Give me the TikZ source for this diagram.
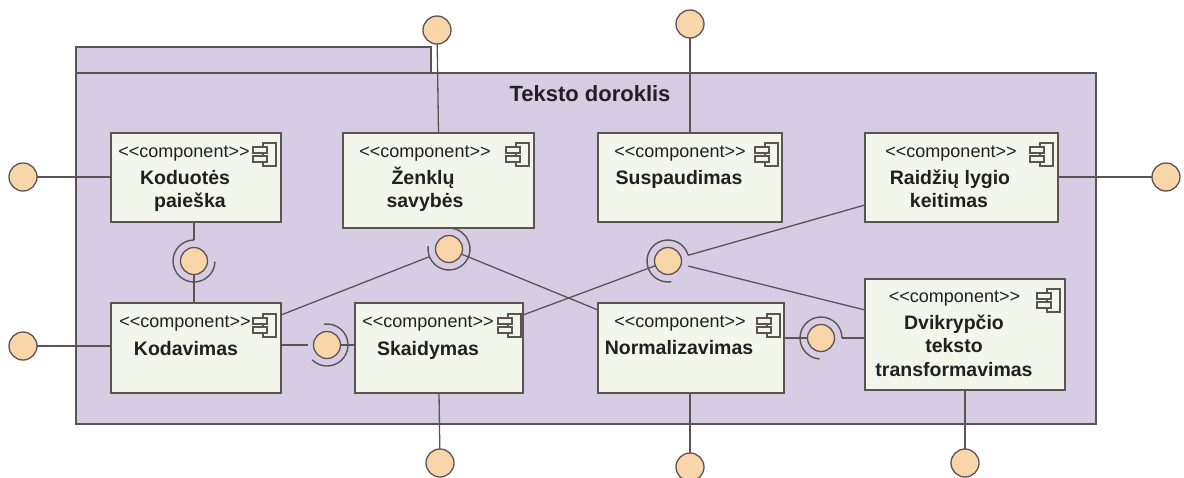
\documentclass[tikz,border=0pt]{standalone}
\usepackage{fontspec}
\setmainfont{Liberation Sans}
\usetikzlibrary{calc}
\definecolor{pkgfill}{HTML}{D6CDE5}
\definecolor{boxfill}{HTML}{F3F7EB}
\definecolor{ballfill}{HTML}{F9D5AA}
\definecolor{edge}{HTML}{5C5353}
\definecolor{ink}{HTML}{231F20}
% stereotype text, with the angle brackets kept apart so they stay plain
\newcommand\stereotxt{<\kern0pt<component>\kern0pt>}
\tikzset{
  pkg/.style={draw=edge, fill=pkgfill, line width=1.5pt},
  comp/.style={rectangle, draw=edge, fill=boxfill, line width=1.5pt, inner sep=0pt, outer sep=0pt},
  iface/.style={circle, draw=edge, fill=ballfill, line width=1.3pt, minimum size=28pt, inner sep=0pt, outer sep=0pt},
  ball/.style={iface, minimum size=27pt},
  wire/.style={draw=edge, line width=1.3pt},
  socket/.style={draw=edge, line width=1.4pt},
  stereo/.style={inner sep=0pt, anchor=base, text=ink, font=\fontsize{18}{20}\selectfont},
  cname/.style={inner sep=0pt, anchor=base, text=ink, font=\fontsize{19.5}{23}\selectfont\bfseries},
  pkgtitle/.style={inner sep=0pt, anchor=base, text=ink, font=\fontsize{22}{26}\selectfont\bfseries},
  cicon/.pic={
    \draw[draw=edge, fill=boxfill, line width=1.1pt] (10,0) rectangle (23,-23);
    \draw[draw=edge, fill=boxfill, line width=1.1pt] (0,-4) rectangle (14,-10);
    \draw[draw=edge, fill=boxfill, line width=1.1pt] (0,-13) rectangle (14,-19);
  },
}
\begin{document}
\begin{tikzpicture}[x=1pt, y=1pt]
\useasboundingbox (0,0) rectangle (1184,-477);

% package frame with its name tab
\draw[pkg] (76,-47) rectangle (431,-74);
\draw[pkg] (76,-73) rectangle (1096,-424);
\node[pkgtitle] (title) at (590,-101) {Teksto doroklis};

% components
\node[comp, minimum width=170pt, minimum height=89pt] (B1) at (196,-177.5) {};
\node[comp, minimum width=191pt, minimum height=95pt] (B2) at (438.5,-180.5) {};
\node[comp, minimum width=184pt, minimum height=89pt] (B3) at (690,-177.5) {};
\node[comp, minimum width=193pt, minimum height=89pt] (B4) at (961.5,-177.5) {};
\node[comp, minimum width=170pt, minimum height=90pt] (B5) at (196,-348) {};
\node[comp, minimum width=168pt, minimum height=90pt] (B6) at (439,-348) {};
\node[comp, minimum width=186pt, minimum height=90pt] (B7) at (691,-348) {};
\node[comp, minimum width=200pt, minimum height=111pt] (B8) at (965,-334.5) {};

% component icons
\pic at (253,-143) {cicon};
\pic at (506,-143) {cicon};
\pic at (755,-143) {cicon};
\pic at (1030,-143) {cicon};
\pic at (253,-314) {cicon};
\pic at (498,-314) {cicon};
\pic at (757,-314) {cicon};
\pic at (1037,-289) {cicon};

% stereotypes
\node[stereo] (s1) at (184,-157) {\stereotxt};
\node[stereo] (s2) at (425,-157) {\stereotxt};
\node[stereo] (s3) at (680,-157) {\stereotxt};
\node[stereo] (s4) at (951,-157) {\stereotxt};
\node[stereo] (s5) at (185,-327) {\stereotxt};
\node[stereo] (s6) at (428,-327) {\stereotxt};
\node[stereo] (s7) at (680,-327) {\stereotxt};
\node[stereo] (s8) at (954.5,-302) {\stereotxt};

% component names
\node[cname] (n1a) at (185,-184) {Koduotės};
\node[cname] (n1b) at (190,-207) {paieška};
\node[cname] (n2a) at (423,-184) {Ženklų};
\node[cname] (n2b) at (425,-207) {savybės};
\node[cname] (n3) at (679,-184) {Suspaudimas};
\node[cname] (n4a) at (950,-184) {Raidžių lygio};
\node[cname] (n4b) at (949,-207) {keitimas};
\node[cname] (n5) at (186,-355) {Kodavimas};
\node[cname] (n6) at (428,-355) {Skaidymas};
\node[cname] (n7) at (679,-354) {Normalizavimas};
\node[cname] (n8a) at (954,-329) {Dvikrypčio};
\node[cname] (n8b) at (954,-352.5) {teksto};
\node[cname] (n8c) at (954,-376.5) {transformavimas};

% exposed interfaces
\node[iface] (L1) at (23,-177) {};
\node[iface] (L2) at (23,-346) {};
\node[iface] (T1) at (437,-30) {};
\node[iface] (T2) at (690,-24) {};
\node[iface] (R1) at (1166,-177) {};
\node[iface] (S1) at (440,-463) {};
\node[iface] (S2) at (690,-467) {};
\node[iface] (S3) at (965,-463) {};

\draw[wire] (L1) -- (L1 -| B1.west);
\draw[wire] (L2) -- (L2 -| B5.west);
\draw[wire] (T1) -- (B2.north);
\draw[wire] (T2) -- (T2 |- B3.north);
\draw[wire] (R1) -- (R1 -| B4.east);
\draw[wire] (S1) -- (B6.south);
\draw[wire] (S2) -- (S2 |- B7.south);
\draw[wire] (S3) -- (S3 |- B8.south);

% assembly connectors: provided ball inside a required socket
\node[ball] (A1) at (194,-261) {};
\node[ball] (A2) at (327,-345) {};
\node[ball] (A3) at (449,-249) {};
\node[ball] (A4) at (668,-261) {};
\node[ball] (A5) at (821,-338) {};

\coordinate (k3) at ($(B5.north east)+(0,-12)$);
\coordinate (m3) at ($(B7.north west)+(0,-7)$);
\coordinate (k4) at ($(B6.north east)+(0,-12)$);
\coordinate (r4) at ($(B4.south west)+(0,17)$);
\coordinate (d4) at ($(B8.north west)+(0,-31)$);

\draw[wire] (A1 |- B1.south) -- ($(A1)+(0,21)$);
\draw[wire] (A1 |- B5.north) -- (A1);
\draw[socket] ($(A1)+(90:21)$) arc[start angle=90, end angle=358, radius=21];

\draw[wire] (A2 -| B5.east) -- ($(A2)+(-19,0)$);
\draw[wire] (A2) -- (A2 -| B6.west);
\draw[socket] ($(A2)+(225:21)$) arc[start angle=225, end angle=458, radius=21];

\draw[wire] (k3) -- ($(A3)!21pt!(k3)$);
\draw[wire] (A3) -- (m3);
\draw[socket] ($(A3)+(172:21)$) arc[start angle=172, end angle=455, radius=21];

\draw[wire] (k4) -- (A4);
\draw[wire] (r4) -- ($(A4)!21pt!(r4)$);
\draw[wire] (d4) -- ($(A4)!21pt!(d4)$);
\draw[socket] ($(A4)+(16:21)$) arc[start angle=16, end angle=279, radius=21];

\draw[wire] (A5) -- (A5 -| B7.east);
\draw[wire] ($(A5)+(21,0)$) -- (A5 -| B8.west);
\draw[socket] ($(A5)+(0:21)$) arc[start angle=0, end angle=266, radius=21];
\end{tikzpicture}
\end{document}
